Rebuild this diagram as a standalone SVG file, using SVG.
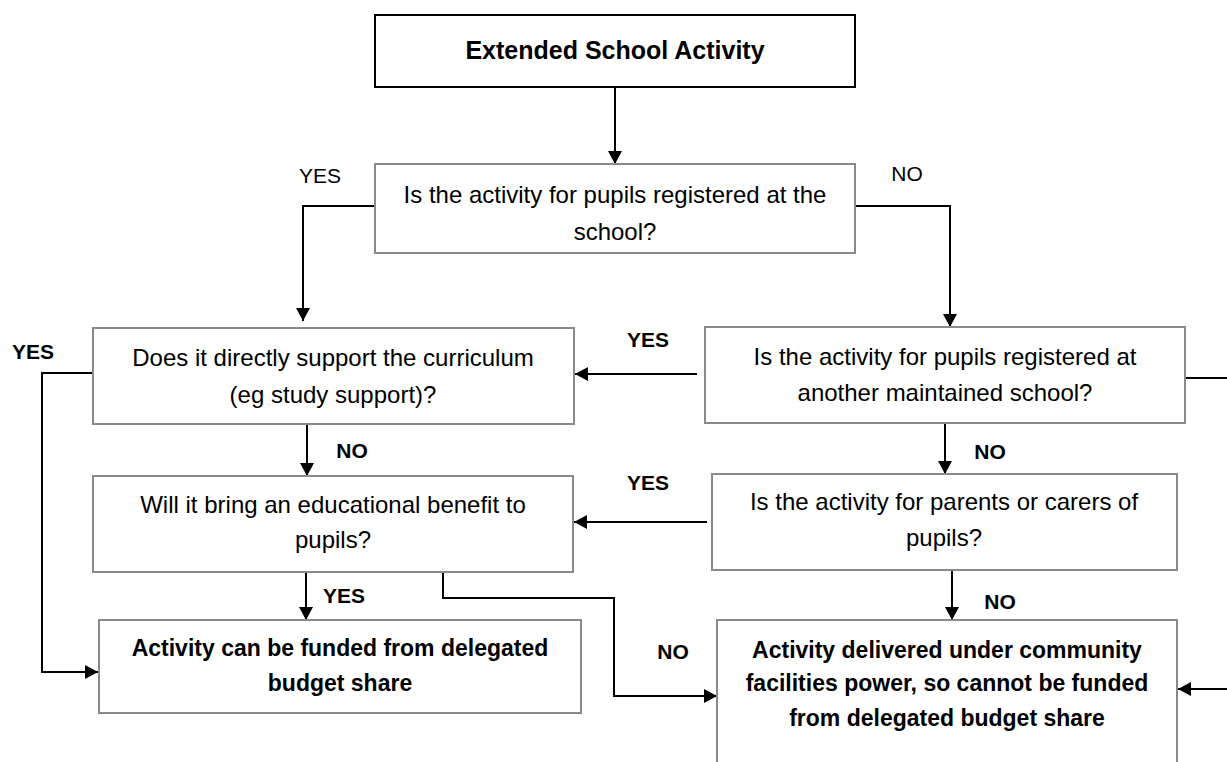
<svg xmlns="http://www.w3.org/2000/svg" width="1227" height="762" viewBox="0 0 1227 762">
<style>
.box{fill:#fff;stroke:#8a8a8a;stroke-width:2}
.top{fill:#fff;stroke:#000;stroke-width:2}
.t{font-family:"Liberation Sans",Arial,sans-serif;font-size:24px;fill:#000;text-anchor:middle}
.tb{font-family:"Liberation Sans",Arial,sans-serif;font-size:23px;font-weight:bold;fill:#000;text-anchor:middle}
.h{font-size:25px}
.lbl{font-family:"Liberation Sans",Arial,sans-serif;font-size:21px;fill:#000;text-anchor:middle}
.b{font-weight:bold}
.c{fill:none;stroke:#000;stroke-width:2}
</style>
<defs>
<marker id="ah" markerUnits="userSpaceOnUse" markerWidth="13" markerHeight="14" refX="13" refY="7" orient="auto">
<path d="M0,0 L13,7 L0,14 z" fill="#000"/>
</marker>
</defs>
<g id="connectors">
<path class="c" d="M615,87 V164" marker-end="url(#ah)"/>
<path class="c" d="M375,206 H303 V321" marker-end="url(#ah)"/>
<path class="c" d="M855,206 H950 V327" marker-end="url(#ah)"/>
<path class="c" d="M697,374 H575" marker-end="url(#ah)"/>
<path class="c" d="M93,373 H42 V672 H98" marker-end="url(#ah)"/>
<path class="c" d="M307,424 V476" marker-end="url(#ah)"/>
<path class="c" d="M945,423 V474" marker-end="url(#ah)"/>
<path class="c" d="M707,522 H574" marker-end="url(#ah)"/>
<path class="c" d="M306,572 V620" marker-end="url(#ah)"/>
<path class="c" d="M443,573 V598 H614 V696 H717" marker-end="url(#ah)"/>
<path class="c" d="M952,570 V620" marker-end="url(#ah)"/>
<path class="c" d="M1185,378 H1227"/>
<path class="c" d="M1227,689 H1178" marker-end="url(#ah)"/>
</g>
<g id="labels">
<text class="lbl" x="320" y="183">YES</text>
<text class="lbl" x="907" y="181">NO</text>
<text class="lbl b" x="33" y="359">YES</text>
<text class="lbl b" x="648" y="347">YES</text>
<text class="lbl b" x="648" y="490">YES</text>
<text class="lbl b" x="352" y="458">NO</text>
<text class="lbl b" x="990" y="459">NO</text>
<text class="lbl b" x="344" y="603">YES</text>
<text class="lbl b" x="1000" y="609">NO</text>
<text class="lbl b" x="673" y="659">NO</text>
</g>
<g id="start">
<rect class="top" x="375" y="15" width="480" height="72"/>
<text class="tb h" x="615" y="59">Extended School Activity</text>
</g>
<g id="q1">
<rect class="box" x="375" y="164" width="480" height="89"/>
<text class="t" x="615" y="203">Is the activity for pupils registered at the</text>
<text class="t" x="615" y="240">school?</text>
</g>
<g id="q2">
<rect class="box" x="93" y="328" width="481" height="96"/>
<text class="t" x="333" y="366">Does it directly support the curriculum</text>
<text class="t" x="333" y="403">(eg study support)?</text>
</g>
<g id="q3">
<rect class="box" x="705" y="327" width="480" height="96"/>
<text class="t" x="945" y="365">Is the activity for pupils registered at</text>
<text class="t" x="945" y="401">another maintained school?</text>
</g>
<g id="q4">
<rect class="box" x="93" y="476" width="480" height="96"/>
<text class="t" x="333" y="513">Will it bring an educational benefit to</text>
<text class="t" x="333" y="548">pupils?</text>
</g>
<g id="q5">
<rect class="box" x="712" y="474" width="465" height="96"/>
<text class="t" x="944" y="510">Is the activity for parents or carers of</text>
<text class="t" x="944" y="546">pupils?</text>
</g>
<g id="r1">
<rect class="box" x="99" y="620" width="482" height="93"/>
<text class="tb" x="340" y="656">Activity can be funded from delegated</text>
<text class="tb" x="340" y="691">budget share</text>
</g>
<g id="r2">
<rect class="box" x="717" y="620" width="460" height="160"/>
<text class="tb" x="947" y="658">Activity delivered under community</text>
<text class="tb" x="947" y="691">facilities power, so cannot be funded</text>
<text class="tb" x="947" y="726">from delegated budget share</text>
</g>
</svg>
